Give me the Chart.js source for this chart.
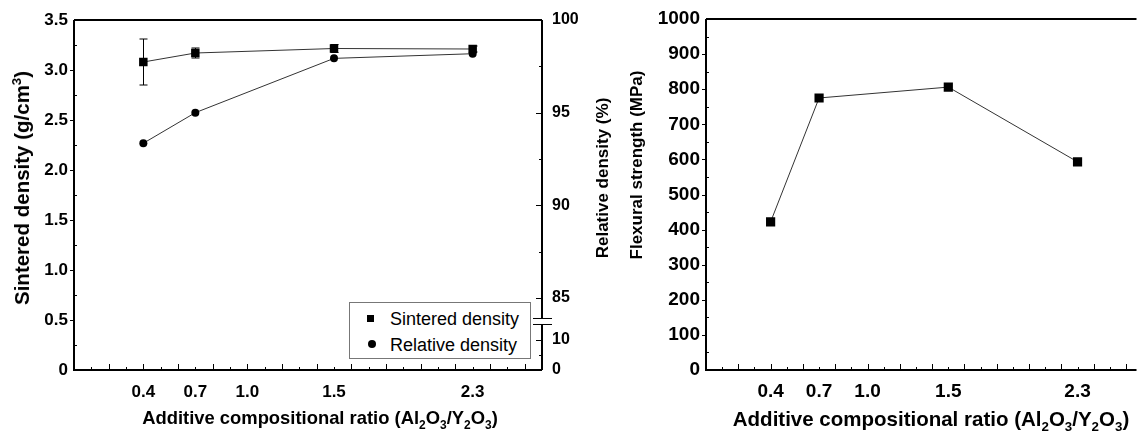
<!DOCTYPE html>
<html>
<head>
<meta charset="utf-8">
<title>Density and flexural strength vs additive ratio</title>
<script src="https://cdn.jsdelivr.net/npm/chart.js@4.4.0/dist/chart.umd.min.js"></script>
<style>
  body { margin: 0; background: #fff; }
  #wrap { position: relative; width: 1143px; height: 432px; overflow: hidden;
          font-family: 'Liberation Sans', Arial, sans-serif; color: #000; }
  canvas { position: absolute; top: 0; }
  .ttl { position: absolute; font-weight: bold; white-space: nowrap; transform: translate(-50%, -50%); }
  .rot { transform: translate(-50%, -50%) rotate(-90deg); }
  sub, sup { font-size: 65%; line-height: 0; }
  #legend { position: absolute; left: 349px; top: 302px; width: 182px; height: 57px;
            border: 1px solid #777; background: #fff; box-sizing: border-box; }
  #legend .lt { position: absolute; left: 40px; font-size: 18px; line-height: 22px; }
  #legend .sq { position: absolute; left: 17px; top: 12px; width: 7px; height: 7px; background: #000; }
  #legend .ci { position: absolute; left: 18px; top: 37px; width: 8px; height: 8px; background: #000; border-radius: 50%; }
</style>
</head>
<body>
<div id="wrap">
  <canvas id="densityChart" width="600" height="432" style="left:0"></canvas>
  <canvas id="strengthChart" width="488" height="432" style="left:655px"></canvas>

  <div class="ttl" style="left:320px; top:418px; font-size:18.4px">Additive compositional ratio (Al<sub>2</sub>O<sub>3</sub>/Y<sub>2</sub>O<sub>3</sub>)</div>
  <div class="ttl" style="left:931px; top:419px; font-size:20.5px">Additive compositional ratio (Al<sub>2</sub>O<sub>3</sub>/Y<sub>2</sub>O<sub>3</sub>)</div>
  <div class="ttl rot" style="left:22px; top:188px; font-size:20.5px">Sintered density (g/cm<sup>3</sup>)</div>
  <div class="ttl rot" style="left:603px; top:178px; font-size:17px">Relative density (%)</div>
  <div class="ttl rot" style="left:637px; top:165px; font-size:17px">Flexural strength (MPa)</div>

  <div id="legend">
    <span class="sq"></span><span class="lt" style="top:5px">Sintered density</span>
    <span class="ci"></span><span class="lt" style="top:31px">Relative density</span>
  </div>
</div>

<script>
// data
let ratios = [0.4, 0.7, 1.5, 2.3];
let ratioLabels = [0.4, 0.7, 1.0, 1.5, 2.3];
let sinteredDensity = [3.08, 3.17, 3.215, 3.21];
let sinteredError = [0.23, 0.05, 0.04, 0.03];
let relativeDensity = [93.35, 95.0, 97.93, 98.18];
let flexuralStrength = [422, 775, 806, 593];

let densityTicks = [0, 0.5, 1.0, 1.5, 2.0, 2.5, 3.0, 3.5];
let relativeTicks = [0, 10, 85, 90, 95, 100];
let strengthTicks = [0, 100, 200, 300, 400, 500, 600, 700, 800, 900, 1000];

// right axis of the density plot is broken: 0-10 squeezed under 85-100
let relAxisMin = 81.115;
let relLowStep = 0.1619;
function relPos(v) {
  return v >= 85 ? v : relAxisMin + v * relLowStep;
}

Chart.defaults.font.family = "'Liberation Sans', Arial, sans-serif";
Chart.defaults.color = '#000';

function toPoints(xs, ys) {
  return xs.map(function (x, i) { return { x: x, y: ys[i] }; });
}

// axis lines, inward/outward tick marks, axis break
const axisFrame = {
  id: 'axisFrame',
  afterDraw(chart, args, opts) {
    let ctx = chart.ctx;
    let a = chart.chartArea;
    let xs = chart.scales.x;
    let ys = chart.scales.y;
    ctx.save();
    ctx.strokeStyle = '#000';
    ctx.lineWidth = 2;
    ctx.beginPath();
    ctx.moveTo(a.left, a.top); ctx.lineTo(a.right, a.top);
    ctx.moveTo(a.left, a.top); ctx.lineTo(a.left, a.bottom); ctx.lineTo(a.right, a.bottom);
    ctx.stroke();

    ctx.lineWidth = 1;
    ctx.beginPath();
    for (let i = 1; i / 10 <= xs.max; i++) {
      let px = Math.round(xs.getPixelForValue(i / 10)) + 0.5;
      let len = i % 2 === 0 ? 6 : 3;
      ctx.moveTo(px, a.bottom); ctx.lineTo(px, a.bottom - len);
    }
    let step = opts.yStep / 2;
    for (let i = 1; i * step < ys.max; i++) {
      let py = Math.round(ys.getPixelForValue(i * step)) + 0.5;
      if (i % 2 === 0) { ctx.moveTo(a.left - 4, py); ctx.lineTo(a.left, py); }
      else { ctx.moveTo(a.left, py); ctx.lineTo(a.left + 3, py); }
    }
    ctx.stroke();

    if (opts.rightAxis) {
      let yr = chart.scales.y2;
      let b1 = yr.getPixelForValue(85) + 20;
      let b2 = b1 + 6;
      ctx.lineWidth = 2;
      ctx.beginPath();
      ctx.moveTo(a.right, a.top); ctx.lineTo(a.right, b1);
      ctx.moveTo(a.right, b2); ctx.lineTo(a.right, a.bottom);
      ctx.stroke();
      ctx.lineWidth = 1;
      ctx.beginPath();
      ctx.moveTo(a.right - 9, b1 + 0.5); ctx.lineTo(a.right + 10, b1 + 0.5);
      ctx.moveTo(a.right - 9, b2 + 0.5); ctx.lineTo(a.right + 10, b2 + 0.5);
      [85, 90, 95].forEach(function (v) {
        let py = Math.round(yr.getPixelForValue(v)) + 0.5;
        ctx.moveTo(a.right - 6, py); ctx.lineTo(a.right, py);
      });
      [87.5, 92.5, 97.5].forEach(function (v) {
        let py = Math.round(yr.getPixelForValue(v)) + 0.5;
        ctx.moveTo(a.right - 3, py); ctx.lineTo(a.right, py);
      });
      let p10 = Math.round(yr.getPixelForValue(relPos(10))) + 0.5;
      let p5 = Math.round(yr.getPixelForValue(relPos(5))) + 0.5;
      ctx.moveTo(a.right - 6, p10); ctx.lineTo(a.right, p10);
      ctx.moveTo(a.right - 3, p5); ctx.lineTo(a.right, p5);
      ctx.stroke();
    }
    ctx.restore();
  }
};

// vertical error bars for the sintered density
const errorBars = {
  id: 'errorBars',
  beforeDatasetsDraw(chart) {
    let ctx = chart.ctx;
    let xs = chart.scales.x;
    let ys = chart.scales.y;
    ctx.save();
    ctx.strokeStyle = '#000';
    ctx.lineWidth = 1;
    ctx.beginPath();
    for (let i = 0; i < ratios.length; i++) {
      let px = Math.round(xs.getPixelForValue(ratios[i])) + 0.5;
      let top = ys.getPixelForValue(sinteredDensity[i] + sinteredError[i]);
      let bot = ys.getPixelForValue(sinteredDensity[i] - sinteredError[i]);
      ctx.moveTo(px, top); ctx.lineTo(px, bot);
      ctx.moveTo(px - 4, top); ctx.lineTo(px + 4, top);
      ctx.moveTo(px - 4, bot); ctx.lineTo(px + 4, bot);
    }
    ctx.stroke();
    ctx.restore();
  }
};

function fixedTicks(list) {
  return function (scale) {
    scale.ticks = list.map(function (v) { return { value: v }; });
  };
}

function xScale(max, fontSize, pad) {
  return {
    type: 'linear', min: 0, max: max,
    afterBuildTicks: fixedTicks(ratioLabels),
    afterFit: function (s) { s.height = 62; },
    grid: { display: false, drawTicks: false },
    border: { display: false },
    ticks: {
      font: { size: fontSize, weight: 'bold' }, padding: pad, maxRotation: 0, autoSkip: false,
      callback: function (v) { return v.toFixed(1); }
    }
  };
}

new Chart(document.getElementById('densityChart'), {
  type: 'line',
  data: {
    datasets: [{
      label: 'Sintered density',
      data: toPoints(ratios, sinteredDensity),
      yAxisID: 'y',
      borderColor: '#333', borderWidth: 1,
      pointStyle: 'rect', pointRadius: 6,
      pointBackgroundColor: '#000', pointBorderColor: '#000', pointBorderWidth: 0
    }, {
      label: 'Relative density',
      data: toPoints(ratios, relativeDensity),
      yAxisID: 'y2',
      borderColor: '#333', borderWidth: 1,
      pointStyle: 'circle', pointRadius: 4,
      pointBackgroundColor: '#000', pointBorderColor: '#000', pointBorderWidth: 0
    }]
  },
  options: {
    responsive: false, animation: false, devicePixelRatio: 1,
    layout: { padding: { top: 20, left: 0, right: 0, bottom: 0 } },
    plugins: { legend: { display: false }, tooltip: { enabled: false }, axisFrame: { yStep: 0.5, rightAxis: true } },
    scales: {
      x: xScale(2.70, 17, 12),
      y: {
        min: 0, max: 3.5,
        afterBuildTicks: fixedTicks(densityTicks),
        afterFit: function (s) { s.width = 74; },
        grid: { display: false, drawTicks: false },
        border: { display: false },
        ticks: {
          font: { size: 17, weight: 'bold' }, padding: 6,
          callback: function (v) { return v === 0 ? '0' : v.toFixed(1); }
        }
      },
      y2: {
        position: 'right', min: relAxisMin, max: 100,
        afterBuildTicks: fixedTicks(relativeTicks.map(relPos)),
        afterFit: function (s) { s.width = 58; },
        grid: { display: false, drawTicks: false },
        border: { display: false },
        ticks: {
          font: { size: 16, weight: 'bold' }, padding: 10,
          callback: function (v, i) { return String(relativeTicks[i]); }
        }
      }
    }
  },
  plugins: [axisFrame, errorBars]
});

new Chart(document.getElementById('strengthChart'), {
  type: 'line',
  data: {
    datasets: [{
      label: 'Flexural strength',
      data: toPoints(ratios, flexuralStrength),
      borderColor: '#333', borderWidth: 1,
      pointStyle: 'rect', pointRadius: 6.5,
      pointBackgroundColor: '#000', pointBorderColor: '#000', pointBorderWidth: 0
    }]
  },
  options: {
    responsive: false, animation: false, devicePixelRatio: 1,
    layout: { padding: { top: 19, left: 0, right: 0, bottom: 0 } },
    plugins: { legend: { display: false }, tooltip: { enabled: false }, axisFrame: { yStep: 100, rightAxis: false } },
    scales: {
      x: xScale(2.665, 19, 10),
      y: {
        min: 0, max: 1000,
        afterBuildTicks: fixedTicks(strengthTicks),
        afterFit: function (s) { s.width = 51; },
        grid: { display: false, drawTicks: false },
        border: { display: false },
        ticks: {
          font: { size: 19, weight: 'bold' }, padding: 6,
          callback: function (v) { return String(v); }
        }
      }
    }
  },
  plugins: [axisFrame]
});
</script>
</body>
</html>
